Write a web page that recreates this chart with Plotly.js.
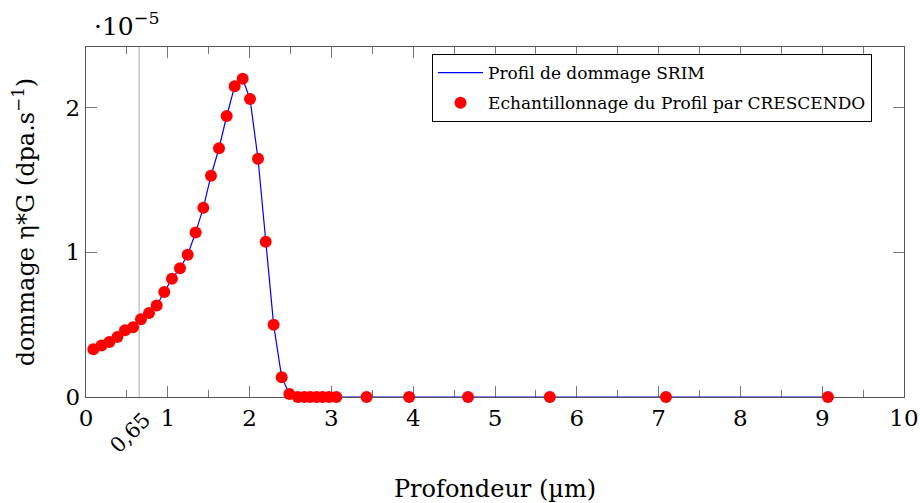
<!DOCTYPE html>
<html>
<head>
<meta charset="utf-8">
<script src="https://cdn.plot.ly/plotly-3.0.1.min.js"></script>
<style>html,body{margin:0;padding:0;background:#fff;}#chart{width:920px;height:503px;}</style>
</head>
<body>
<div id="chart"></div>
<script>
// Depth (µm) and damage (×10^-5 dpa.s^-1)
const depth = [0.09, 0.19, 0.285, 0.383, 0.477, 0.575, 0.672, 0.77, 0.864, 0.957, 1.051, 1.149, 1.243, 1.34, 1.434, 1.528, 1.626, 1.72, 1.817, 1.915, 2.005, 2.103, 2.197, 2.294, 2.392, 2.486, 2.59, 2.67, 2.74, 2.82, 2.89, 2.97, 3.06, 3.43, 3.95, 4.67, 5.67, 7.09, 9.07];
const damage = [0.33, 0.356, 0.381, 0.414, 0.462, 0.483, 0.538, 0.58, 0.633, 0.726, 0.818, 0.89, 0.984, 1.137, 1.308, 1.53, 1.72, 1.943, 2.148, 2.2, 2.061, 1.647, 1.074, 0.499, 0.137, 0.021, 0, 0, 0, 0, 0, 0, 0, 0, 0, 0, 0, 0, 0];
const xTicks = [0, 1, 2, 3, 4, 5, 6, 7, 8, 9, 10];
const yTicks = [0, 1, 2];
const yTickText = ["0", "1", "2"];
const markDepth = 0.65;
const markLabel = "0,65";
const seriesNames = ["Profil de dommage SRIM", "Echantillonnage du Profil par CRESCENDO"];

const FONT = "DejaVu Serif, serif";
const axisCommon = {
  showgrid: false, zeroline: false, showline: true, linecolor: '#555', linewidth: 1.3,
  ticks: 'inside', ticklen: 11, tickcolor: '#777', tickwidth: 1, mirror: 'ticks',
  tickfont: {family: FONT, size: 23, color: '#000'}, layer: 'below traces'
};

const traces = [
  {x: depth, y: damage, type: 'scatter', mode: 'lines', name: seriesNames[0], legendgroup: 'a',
   line: {color: '#0000ff', width: 1.2}, cliponaxis: false},
  {x: depth, y: damage, type: 'scatter', mode: 'markers', name: seriesNames[1], legendgroup: 'b',
   marker: {color: '#ff0000', size: 12}, cliponaxis: false}
];

const layout = {
  width: 920, height: 503,
  margin: {l: 86, r: 16, t: 47, b: 106},
  paper_bgcolor: '#fff', plot_bgcolor: '#fff',
  font: {family: FONT, color: '#000'},
  xaxis: Object.assign({}, axisCommon, {
    range: [0, 10], tickvals: xTicks,
    minor: {dtick: 0.5, ticks: 'inside', ticklen: 7, tickcolor: '#777', tickwidth: 1},
    title: {text: 'Profondeur (µm)', font: {family: FONT, size: 24}, standoff: 58}
  }),
  yaxis: Object.assign({}, axisCommon, {
    range: [0, 2.42], tickvals: yTicks, ticktext: yTickText,
    title: {text: 'dommage η*G (dpa.s<sup>−1</sup>)', font: {family: FONT, size: 24}, standoff: 24}
  }),
  showlegend: true,
  legend: {x: 0.423, y: 0.98, xanchor: 'left', yanchor: 'top',
    traceorder: 'grouped', tracegroupgap: 5, itemwidth: 45,
    bordercolor: '#000', borderwidth: 1, bgcolor: '#fff',
    font: {family: FONT, size: 17, color: '#000'}},
  shapes: [{type: 'line', xref: 'x', yref: 'paper', x0: markDepth, x1: markDepth, y0: 0, y1: 1,
    line: {color: '#c8c8c8', width: 1.5}, layer: 'below'}],
  annotations: [
    {xref: 'paper', yref: 'paper', x: 0, y: 1, xanchor: 'left', yanchor: 'bottom', xshift: 6, yshift: 4,
     text: '·10<sup>−5</sup>', showarrow: false, font: {family: FONT, size: 25, color: '#000'}},
    {xref: 'x', yref: 'paper', x: markDepth, y: 0, xanchor: 'center', yanchor: 'middle',
     xshift: -9, yshift: -36, textangle: -45, text: markLabel, showarrow: false,
     font: {family: FONT, size: 21, color: '#000'}}
  ]
};

Plotly.newPlot('chart', traces, layout, {displayModeBar: false, staticPlot: true});
</script>
</body>
</html>
